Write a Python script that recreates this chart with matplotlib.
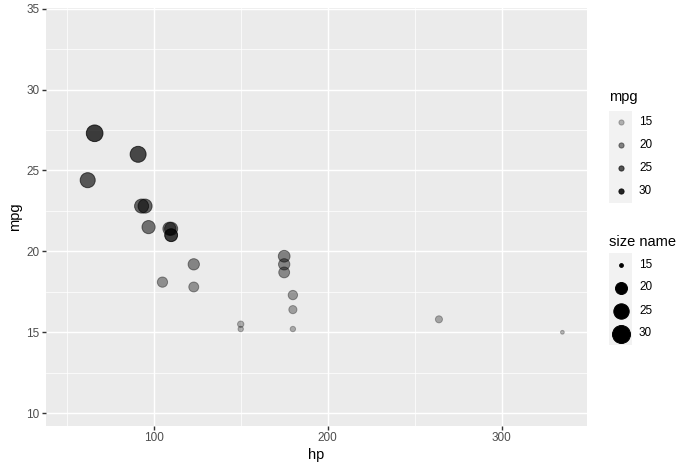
import numpy as np
from matplotlib import pyplot as plt

plt.rcParams['font.family'] = ['Liberation Sans', 'DejaVu Sans']

# cars shown in the plot (hp, mpg)
hp = [110, 110, 93, 110, 175, 105, 62, 95, 123, 123, 180, 180, 180, 97,
      150, 150, 175, 66, 91, 264, 175, 335, 109]
mpg = [21.0, 21.0, 22.8, 21.4, 18.7, 18.1, 24.4, 22.8, 19.2, 17.8, 16.4, 17.3,
       15.2, 21.5, 15.5, 15.2, 19.2, 27.3, 26.0, 15.8, 19.7, 15.0, 21.4]

legend_breaks = [15, 20, 25, 30]
x_ticks = [100, 200, 300]
y_ticks = [10, 15, 20, 25, 30, 35]

W, H = 692, 471


def size_of(v):
    # ggplot scale_size with limits 15..30, range 1..6 (area)
    v = np.asarray(v, dtype=float)
    return 1 + 5 * np.sqrt(np.clip((v - 15) / 15, 0, 1))


def alpha_of(v):
    # default alpha range 0.1..1 over the data range of mpg
    v = np.asarray(v, dtype=float)
    return 0.1 + 0.9 * (v - 10.4) / (33.9 - 10.4)


def marker_s(size):
    # ggplot size -> diameter in px -> matplotlib points^2 (dpi 100)
    d_px = 2.845 * np.asarray(size) + 0.945
    return (d_px * 0.72) ** 2


fig = plt.figure(figsize=(W / 100, H / 100), dpi=100)
left, right, top, bottom = 45.7, 587, 7.5, 425.7
ax = fig.add_axes([left / W, (H - bottom) / H, (right - left) / W, (bottom - top) / H])
ax.set_facecolor('#EBEBEB')
ax.set_xlim(37.85, 349.15)
ax.set_ylim(9.225, 35.075)

for xv in [50, 150, 250]:
    ax.axvline(xv, color='white', lw=0.51, zorder=0)
for yv in np.arange(12.5, 35, 5):
    ax.axhline(yv, color='white', lw=0.51, zorder=0)
for xv in x_ticks:
    ax.axvline(xv, color='white', lw=1.02, zorder=0)
for yv in y_ticks:
    ax.axhline(yv, color='white', lw=1.02, zorder=0)

cols = np.zeros((len(mpg), 4))
cols[:, 3] = alpha_of(mpg)
ax.scatter(hp, mpg, s=marker_s(size_of(mpg)), c=cols, edgecolors=cols,
           linewidths=0.68, zorder=3)

for sp in ax.spines.values():
    sp.set_visible(False)
ax.set_xticks(x_ticks)
ax.set_yticks(y_ticks)
ax.tick_params(colors='#333333', labelcolor='#4D4D4D', labelsize=8.45,
               length=2.64, width=1.02, pad=2.0)
ax.set_xlabel('hp', fontsize=10.5, labelpad=2.5)
ax.set_ylabel('mpg', fontsize=10.5, labelpad=2.5)

# legends drawn on an overlay in pixel coordinates
lg = fig.add_axes([0, 0, 1, 1])
lg.set_xlim(0, W)
lg.set_ylim(H, 0)
lg.axis('off')

key_x, key_w, key_h = 609, 23, 23
lab_x = 639

# alpha legend
lg.text(key_x, 96.5, 'mpg', fontsize=10.5, va='center', ha='left')
a_top = 110.5
lg.add_patch(plt.Rectangle((key_x, a_top), key_w, key_h * 4, color='#F2F2F2', lw=0))
for i, b in enumerate(legend_breaks):
    cy = a_top + key_h * (i + 0.5)
    c = (0, 0, 0, float(alpha_of(b)))
    lg.scatter([key_x + key_w / 2], [cy], s=marker_s(1.5), c=[c], edgecolors=[c],
               linewidths=0.68)
    lg.text(lab_x, cy, str(b), fontsize=8.45, va='center', ha='left')

# size legend
lg.text(key_x, 242.5, 'size name', fontsize=10.5, va='center', ha='left')
s_top = 253
lg.add_patch(plt.Rectangle((key_x, s_top), key_w, key_h * 4, color='#F2F2F2', lw=0))
for i, b in enumerate(legend_breaks):
    cy = s_top + key_h * (i + 0.5)
    lg.scatter([key_x + key_w / 2], [cy], s=marker_s(size_of(b)), c='black',
               edgecolors='black', linewidths=0.68)
    lg.text(lab_x, cy, str(b), fontsize=8.45, va='center', ha='left')

fig.savefig('out.png', dpi=100)
